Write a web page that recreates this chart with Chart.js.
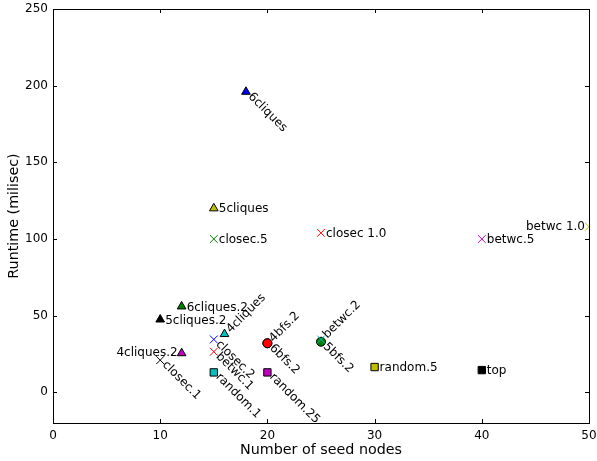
<!DOCTYPE html>
<html>
<head>
<meta charset="utf-8">
<script src="https://cdn.jsdelivr.net/npm/chart.js@4.4.0/dist/chart.umd.min.js"></script>
<style>
  html, body { margin: 0; padding: 0; background: #fff; }
</style>
</head>
<body>
<canvas id="c" width="597" height="461"></canvas>
<script>
// one entry per method: name, seed nodes, runtime, marker colour, marker shape, label side
const names  = ["6cliques", "5cliques", "closec.5", "closec 1.0", "betwc.5", "betwc 1.0",
                "6cliques.2", "5cliques.2", "4cliques", "closec.2", "betwc.1", "4cliques.2",
                "closec.1", "random.1", "4bfs.2", "6bfs.2", "random.25", "betwc.2", "5bfs.2",
                "random.5", "top"];
const seeds  = [18, 15, 15, 25, 40, 50,
                12, 10, 16, 15, 15, 12,
                10, 15, 20, 20, 20, 25, 25,
                30, 40];
const times  = [196, 120, 100, 104, 100, 108,
                56, 47.5, 38, 34.5, 26.5, 25.5,
                21, 13, 32, 32, 13, 34.5, 33,
                16.5, 14.5];
const colors = ["#0000ff", "#bfbf00", "#008000", "#ff0000", "#bf00bf", "#bfbf00",
                "#008000", "#000000", "#00bfbf", "#0000ff", "#ff0000", "#bf00bf",
                "#000000", "#00bfbf", "#ff0000", "#ff0000", "#bf00bf", "#00bfbf", "#008000",
                "#bfbf00", "#000000"];
const shapes = ["triangle", "triangle", "crossRot", "crossRot", "crossRot", "crossRot",
                "triangle", "triangle", "triangle", "crossRot", "crossRot", "triangle",
                "crossRot", "rect", "circle", "circle", "rect", "crossRot", "circle",
                "rect", "rect"];
// r = right, l = left, d = rotated down-right, u = rotated up-right
const sides  = ["d", "r", "r", "r", "r", "l",
                "r", "r", "u", "d", "d", "l",
                "d", "d", "u", "d", "d", "u", "d",
                "r", "r"];

const xTicks = [0, 10, 20, 30, 40, 50];
const yTicks = [0, 50, 100, 150, 200, 250];

const FONT = "DejaVu Sans";
const sizes = { triangle: 5, crossRot: 5.5, rect: 5.2, circle: 4.5 };

const datasets = names.map((n, i) => {
  const cross = shapes[i] === "crossRot";
  return {
    label: n,
    data: [{ x: seeds[i], y: times[i] }],
    pointStyle: shapes[i],
    pointRadius: sizes[shapes[i]],
    pointHoverRadius: sizes[shapes[i]],
    backgroundColor: colors[i],
    borderColor: cross ? colors[i] : "#000",
    borderWidth: 1
  };
});

// point labels, inward tick marks and the top/right frame
const decor = {
  id: "decor",
  afterDatasetsDraw(chart) {
    const { ctx, chartArea: a, scales: { x, y } } = chart;
    ctx.save();
    ctx.font = "12px '" + FONT + "'";
    ctx.fillStyle = "#000";
    ctx.textBaseline = "middle";
    names.forEach((n, i) => {
      const px = x.getPixelForValue(seeds[i]);
      const py = y.getPixelForValue(times[i]);
      ctx.save();
      const s = sides[i];
      if (s === "r") {
        ctx.textAlign = "left";
        ctx.fillText(n, px + 5, py + 1);
      } else if (s === "l") {
        ctx.textAlign = "right";
        ctx.fillText(n, px - 4, py);
      } else if (s === "d") {
        ctx.translate(px + 4, py + 3);
        ctx.rotate(Math.PI / 4);
        ctx.textAlign = "left";
        ctx.fillText(n, 0, 0);
      } else {
        ctx.translate(px + 4, py - 3);
        ctx.rotate(-Math.PI / 4);
        ctx.textAlign = "left";
        ctx.fillText(n, 0, 0);
      }
      ctx.restore();
    });

    ctx.strokeStyle = "#000";
    ctx.lineWidth = 1;
    ctx.beginPath();
    xTicks.forEach(v => {
      const px = Math.round(x.getPixelForValue(v)) + 0.5;
      ctx.moveTo(px, a.bottom); ctx.lineTo(px, a.bottom - 4);
      ctx.moveTo(px, a.top); ctx.lineTo(px, a.top + 4);
    });
    yTicks.forEach(v => {
      const py = Math.round(y.getPixelForValue(v)) + 0.5;
      ctx.moveTo(a.left, py); ctx.lineTo(a.left + 4, py);
      ctx.moveTo(a.right, py); ctx.lineTo(a.right - 4, py);
    });
    ctx.stroke();
    ctx.strokeRect(Math.round(a.left) + 0.5, Math.round(a.top) + 0.5,
                   Math.round(a.right - a.left), Math.round(a.bottom - a.top));
    ctx.restore();
  }
};

new Chart(document.getElementById("c"), {
  type: "scatter",
  data: { datasets },
  plugins: [decor],
  options: {
    responsive: false,
    animation: false,
    devicePixelRatio: 1,
    layout: { padding: { top: 9, right: 8, bottom: 0, left: 0 } },
    plugins: { legend: { display: false }, tooltip: { enabled: false } },
    scales: {
      x: {
        type: "linear", min: 0, max: 50,
        afterBuildTicks: s => { s.ticks = xTicks.map(v => ({ value: v })); },
        afterFit: s => { s.height = 38; s.paddingLeft = 0; s.paddingRight = 0; },
        grid: { display: false, drawTicks: false },
        border: { display: false },
        ticks: { color: "#000", padding: 6, maxRotation: 0, font: { family: FONT, size: 12 } },
        title: { display: true, text: "Number of seed nodes", color: "#000",
                 padding: { top: 0, bottom: 2 }, font: { family: FONT, size: 14.3 } }
      },
      y: {
        type: "linear", min: -20, max: 250,
        afterBuildTicks: s => { s.ticks = yTicks.map(v => ({ value: v })); },
        afterFit: s => { s.width = 53; s.paddingTop = 0; s.paddingBottom = 0; },
        grid: { display: false, drawTicks: false },
        border: { display: false },
        ticks: { color: "#000", padding: 5, font: { family: FONT, size: 12 } },
        title: { display: true, text: "Runtime (milisec)", color: "#000",
                 padding: { top: 6, bottom: 0 }, font: { family: FONT, size: 14.3 } }
      }
    }
  }
});
</script>
</body>
</html>
